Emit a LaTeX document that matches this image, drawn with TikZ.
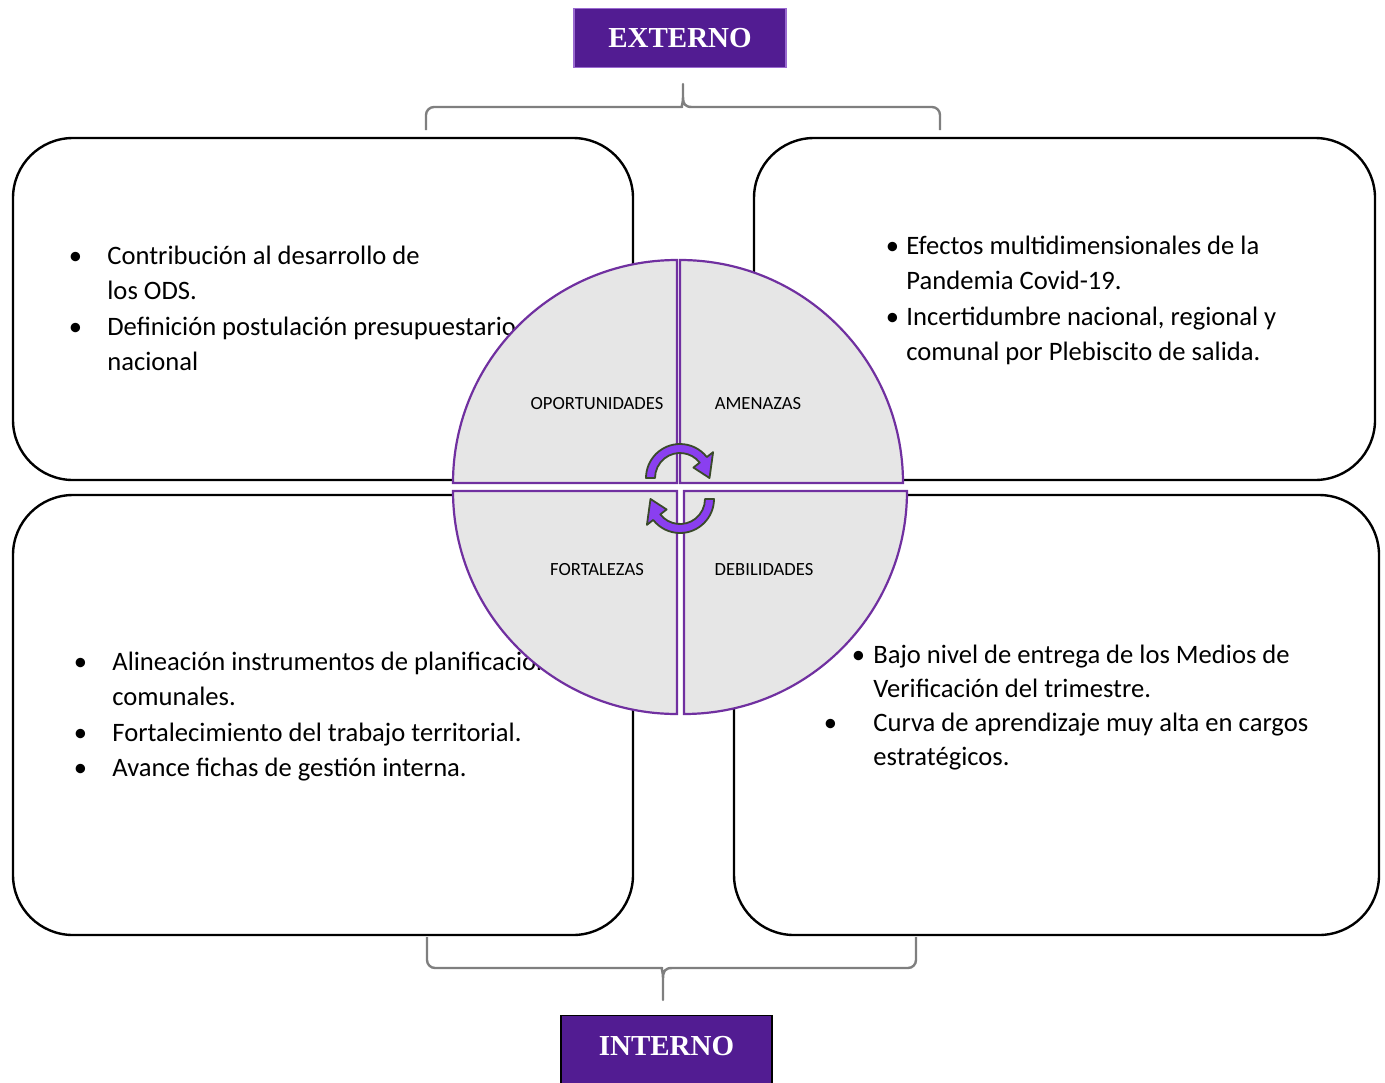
\documentclass[tikz,border=0pt]{standalone}
\usepackage{fontspec}
\setmainfont{Carlito}
\newfontfamily\titlefont{Liberation Serif}
\usepackage{xcolor}
\definecolor{swotpurple}{HTML}{521C92}
\definecolor{titleedge}{HTML}{9A6AD0}
\definecolor{quadline}{HTML}{7030A0}
\definecolor{quadfill}{HTML}{E6E6E6}
\definecolor{cycfill}{HTML}{8A3FF0}
\definecolor{cycline}{HTML}{3A4A2A}
\definecolor{bracegray}{HTML}{7F7F7F}
\newcommand{\itm}[1]{\llap{\makebox[#1][c]{\textbullet}}}

\begin{document}
\begin{tikzpicture}[
    x=0.5pt, y=-0.5pt,
    panel/.style={draw, rounded corners=30pt, line width=1.2pt, inner sep=0pt},
    txt/.style={anchor=base west, inner sep=0pt, font=\fontsize{13.3}{17.75}\selectfont},
    quad/.style={draw=quadline, fill=quadfill, line width=1.1pt},
    qlabel/.style={inner sep=0pt, font=\fontsize{9.3}{11}\selectfont},
    cyc/.style={draw=cycline, fill=cycfill, line width=0.9pt, line join=round},
    brace/.style={draw=bracegray, line width=1.2pt, line join=round},
    title/.style={fill=swotpurple, text=white, font=\titlefont\bfseries\fontsize{14.5}{14.5}\selectfont, inner xsep=0pt, inner ysep=0pt, anchor=north, line width=0.6pt}
]
    \useasboundingbox (0,0) rectangle (1385,1082);

    \node[panel, minimum width=310pt, minimum height=171pt] (opp) at (323,309) {};
    \node[panel, minimum width=310.5pt, minimum height=171pt] (ame) at (1064.5,309) {};
    \node[panel, minimum width=310pt, minimum height=220pt] (fort) at (323,715) {};
    \node[panel, minimum width=322.5pt, minimum height=220pt] (deb) at (1056.5,715) {};

    \node[txt] (oppText) at (107,264) {\begin{tabular}[t]{@{}l@{}}\itm{32pt}Contribución al desarrollo de\\los ODS.\\\itm{32pt}Definición postulación presupuestario\\nacional\end{tabular}};
    \node[txt] (ameText) at (906,254) {\begin{tabular}[t]{@{}l@{}}\itm{14pt}Efectos multidimensionales de la\\Pandemia Covid-19.\\\itm{14pt}Incertidumbre nacional, regional y\\comunal por Plebiscito de salida.\end{tabular}};
    \node[txt] (fortText) at (112,670) {\begin{tabular}[t]{@{}l@{}}\itm{32pt}Alineación instrumentos de planificación\\comunales.\\\itm{32pt}Fortalecimiento del trabajo territorial.\\\itm{32pt}Avance fichas de gestión interna.\end{tabular}};
    \node[txt, font=\fontsize{13.3}{17}\selectfont] (debText) at (873,663) {\begin{tabular}[t]{@{}l@{}}\itm{15pt}Bajo nivel de entrega de los Medios de\\Verificación del trimestre.\\\itm{43pt}Curva de aprendizaje muy alta en cargos\\estratégicos.\end{tabular}};

    \draw[brace] (426,130) [rounded corners=4pt] -- (426,107) -- (674,107) [sharp corners] .. controls (681,107) and (683,104) .. (683,97) -- (683,84) -- (683,97) .. controls (683,104) and (685,107) .. (692,107) [rounded corners=4pt] -- (940,107) -- (940,130);
    \draw[brace] (427,937) [rounded corners=4pt] -- (427,968) -- (654,968) [sharp corners] .. controls (661,968) and (663,971) .. (663,979) -- (663,1000) -- (663,979) .. controls (663,971) and (665,968) .. (672,968) [rounded corners=4pt] -- (916,968) -- (916,937);

    \draw[quad] (677,483) -- (453,483) arc[start angle=180, end angle=90, x radius=112pt, y radius=111.5pt] -- cycle;
    \draw[quad] (680,483) -- (680,260) arc[start angle=90, end angle=0, x radius=111.5pt, y radius=111.5pt] -- cycle;
    \draw[quad] (677,491) -- (453,491) arc[start angle=180, end angle=270, x radius=112pt, y radius=111.5pt] -- cycle;
    \draw[quad] (684,491) -- (907,491) arc[start angle=0, end angle=-90, x radius=111.5pt, y radius=111.5pt] -- cycle;

    \node[qlabel] (oppLabel) at (597,404) {OPORTUNIDADES};
    \node[qlabel] (ameLabel) at (758,404) {AMENAZAS};
    \node[qlabel] (fortLabel) at (597,570) {FORTALEZAS};
    \node[qlabel] (debLabel) at (764,570) {DEBILIDADES};

    \foreach \cy/\rot in {478/0, 499/180}
        \draw[cyc, shift={(680,\cy)}, rotate=\rot] (180:17pt) arc[start angle=180, end angle=38, radius=17pt] -- (38:21pt) -- (0:14.75pt) -- (38:8.5pt) -- (38:12.5pt) arc[start angle=38, end angle=180, radius=12.5pt] -- cycle;

    \node[title, draw=titleedge, minimum width=106pt, text height=19.5pt, text depth=10pt] (externo) at (680,8) {EXTERNO};
    \node[title, draw=black, minimum width=105.5pt, text height=20pt, text depth=20pt] (interno) at (666.5,1015) {INTERNO};
\end{tikzpicture}
\end{document}
